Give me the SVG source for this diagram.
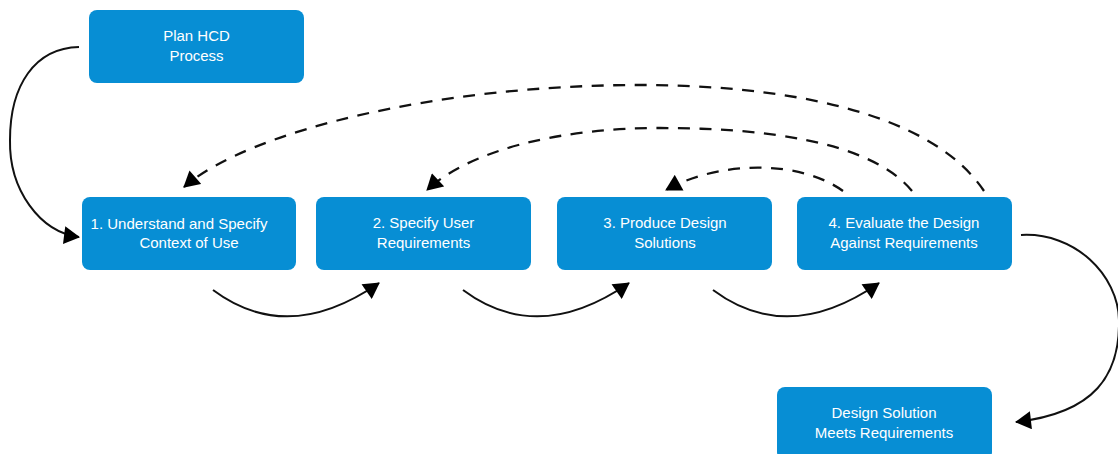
<svg xmlns="http://www.w3.org/2000/svg" width="1118" height="454" viewBox="0 0 1118 454">
<style>
.box{fill:#078ed4}
.lbl{font-family:"Liberation Sans",Arial,sans-serif;font-size:15px;fill:#ffffff;text-anchor:middle}
.solid{fill:none;stroke:#111;stroke-width:2}
.dash{fill:none;stroke:#111;stroke-width:2.3;stroke-dasharray:12 9.5}
</style>
<defs>
<marker id="ah" markerUnits="userSpaceOnUse" markerWidth="17" markerHeight="18" viewBox="0 0 16 18" refX="15" refY="9" orient="auto">
<path d="M0,0 L16,9 L0,18 z" fill="#000"/>
</marker>
</defs>
<rect width="1118" height="454" fill="#ffffff"/>
<g id="connectors">
<path class="solid" d="M79,47 C35,48 10,85 10,140 C9,190 40,232 79,237" marker-end="url(#ah)"/>
<path class="solid" d="M213,290 Q288,346 379,283" marker-end="url(#ah)"/>
<path class="solid" d="M463,290 Q538,346 629,283" marker-end="url(#ah)"/>
<path class="solid" d="M713,290 Q788,346 879,283" marker-end="url(#ah)"/>
<path class="solid" d="M1021,235 C1075,232 1118,275 1119,320 C1120,375 1095,413 1016,422" marker-end="url(#ah)"/>
<path class="dash" d="M984,191 C930,110 780,85 640,85 C440,85 250,130 184,187" marker-end="url(#ah)"/>
<path class="dash" d="M912,191 C870,140 760,128 660,128 C560,128 470,150 427,190" marker-end="url(#ah)"/>
<path class="dash" d="M843,191 C800,160 720,160 666,190" marker-end="url(#ah)"/>
</g>
<g id="plan">
<rect class="box" x="89" y="10" width="215" height="73" rx="8"/>
<text class="lbl" x="196.5" y="41">Plan HCD</text>
<text class="lbl" x="196.5" y="61">Process</text>
</g>
<g id="step1">
<rect class="box" x="82" y="197" width="214" height="73" rx="8"/>
<text class="lbl" x="179" y="228.5">1. Understand and Specify</text>
<text class="lbl" x="189" y="248">Context of Use</text>
</g>
<g id="step2">
<rect class="box" x="316" y="197" width="215" height="73" rx="8"/>
<text class="lbl" x="423.5" y="228">2. Specify User</text>
<text class="lbl" x="423.5" y="247.5">Requirements</text>
</g>
<g id="step3">
<rect class="box" x="557" y="197" width="215" height="73" rx="8"/>
<text class="lbl" x="665" y="228">3. Produce Design</text>
<text class="lbl" x="665" y="247.5">Solutions</text>
</g>
<g id="step4">
<rect class="box" x="797" y="197" width="215" height="73" rx="8"/>
<text class="lbl" x="904" y="228">4. Evaluate the Design</text>
<text class="lbl" x="904" y="247.5">Against Requirements</text>
</g>
<g id="result">
<rect class="box" x="777" y="387" width="215" height="73" rx="8"/>
<text class="lbl" x="884" y="418">Design Solution</text>
<text class="lbl" x="884" y="437.5">Meets Requirements</text>
</g>
</svg>
